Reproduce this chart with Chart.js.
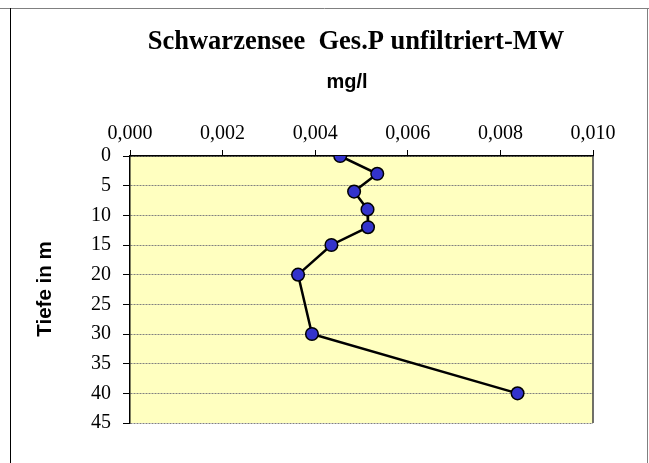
<!DOCTYPE html>
<html>
<head>
<meta charset="utf-8">
<script src="https://cdn.jsdelivr.net/npm/chart.js@4/dist/chart.umd.min.js"></script>
<style>
  html, body { margin: 0; padding: 0; background: #fff; }
  #wrap { width: 649px; height: 463px; position: relative; }
</style>
</head>
<body>
<div id="wrap"><canvas id="chart" width="649" height="463"></canvas></div>
<script>
// Depth profile, Schwarzensee total P (mean)
const depths = [0, 3, 6, 9, 12, 15, 20, 30, 40];
const gesP = [0.00454, 0.00534, 0.00484, 0.00513, 0.00514, 0.00435, 0.00363, 0.00393, 0.00837];
const xTicks = [0, 0.002, 0.004, 0.006, 0.008, 0.010];
const yTicks = [0, 5, 10, 15, 20, 25, 30, 35, 40, 45];

const chartTitle = 'Schwarzensee  Ges.P unfiltriert-MW';
const xTitle = 'mg/l';
const yTitle = 'Tiefe in m';

const points = depths.map((d, i) => ({ x: gesP[i], y: d }));

// background, frame and titles
const decor = {
  id: 'decor',
  beforeDraw(chart) {
    const { ctx, chartArea: a } = chart;
    ctx.save();
    ctx.fillStyle = '#FFFFC0';
    ctx.fillRect(a.left, a.top, a.right - a.left, a.bottom - a.top);
    ctx.restore();
  },
  afterDraw(chart) {
    const { ctx, chartArea: a } = chart;
    ctx.save();
    // outer frame
    ctx.lineWidth = 1;
    ctx.strokeStyle = '#808080';
    ctx.beginPath();
    ctx.moveTo(0, 8.5); ctx.lineTo(649, 8.5);
    ctx.moveTo(647.5, 8); ctx.lineTo(647.5, 463);
    ctx.stroke();
    ctx.strokeStyle = '#000';
    ctx.beginPath();
    ctx.moveTo(10.5, 8); ctx.lineTo(10.5, 463);
    ctx.stroke();
    // right edge of plot
    ctx.strokeStyle = '#404040';
    ctx.lineWidth = 1.5;
    ctx.beginPath();
    ctx.moveTo(a.right, a.top); ctx.lineTo(a.right, a.bottom);
    ctx.stroke();
    // texts
    ctx.fillStyle = '#000';
    ctx.textAlign = 'center';
    ctx.textBaseline = 'alphabetic';
    ctx.font = 'bold 26.5px "Liberation Serif"';
    ctx.fillText(chartTitle, 356, 49);
    ctx.font = 'bold 20px "Liberation Sans"';
    ctx.fillText(xTitle, 347, 88);
    ctx.translate(51, 289);
    ctx.rotate(-Math.PI / 2);
    ctx.font = 'bold 20.5px "Liberation Sans"';
    ctx.fillText(yTitle, 0, 0);
    ctx.restore();
  }
};

const fmt = v => v.toFixed(3).replace('.', ',');

new Chart(document.getElementById('chart'), {
  type: 'scatter',
  data: {
    datasets: [{
      data: points,
      showLine: true,
      borderColor: '#000',
      borderWidth: 2.5,
      pointRadius: 6.3,
      pointBorderWidth: 1.5,
      pointBackgroundColor: '#3333CC',
      pointBorderColor: '#000',
      tension: 0
    }]
  },
  options: {
    responsive: false,
    animation: false,
    events: [],
    layout: { padding: { left: 10, top: 100, right: 56, bottom: 40 } },
    plugins: { legend: { display: false }, tooltip: { enabled: false }, title: { display: false } },
    scales: {
      x: {
        type: 'linear',
        position: 'top',
        min: 0,
        max: 0.01,
        afterBuildTicks: s => { s.ticks = xTicks.map(v => ({ value: v })); },
        afterFit: s => { s.height = 56; },
        ticks: {
          callback: v => fmt(v),
          font: { family: 'Liberation Serif', size: 20 },
          color: '#000',
          padding: 4,
          maxRotation: 0
        },
        grid: { drawOnChartArea: false, tickLength: 6, tickColor: '#000' },
        border: { color: '#000', width: 1.5 }
      },
      y: {
        type: 'linear',
        reverse: true,
        min: 0,
        max: 45,
        afterBuildTicks: s => { s.ticks = yTicks.map(v => ({ value: v })); },
        afterFit: s => { s.width = 120; },
        ticks: {
          font: { family: 'Liberation Serif', size: 20 },
          color: '#000',
          padding: 12
        },
        grid: {
          color: '#808080',
          lineWidth: 1,
          tickLength: 7,
          tickColor: '#000',
          tickBorderDash: []
        },
        border: { color: '#000', width: 1.5, dash: [2, 1] }
      }
    }
  },
  plugins: [decor]
});
</script>
</body>
</html>
